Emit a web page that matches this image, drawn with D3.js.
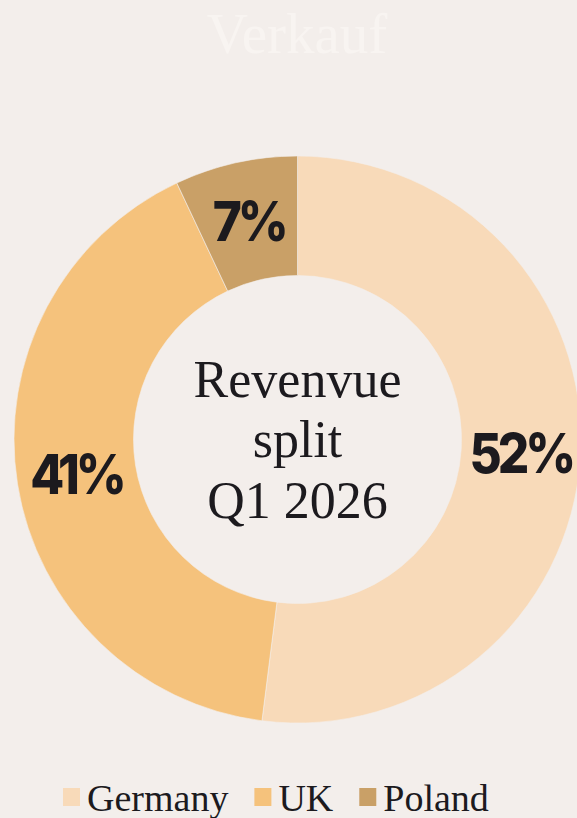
<!DOCTYPE html>
<html>
<head>
<meta charset="utf-8">
<script src="https://cdn.jsdelivr.net/npm/d3@7"></script>
<style>
  html, body { margin: 0; padding: 0; background: #f3eeeb; }
  svg { display: block; }
</style>
</head>
<body>
<svg id="chart" width="577" height="818"></svg>
<script>
const categories = ["Germany", "UK", "Poland"];
const values = [52, 41, 7];
const labels = ["52%", "41%", "7%"];
const colors = ["#f8dab9", "#f5c27c", "#c9a067"];
const title = "Verkauf";
const centerLines = ["Revenvue", "split", "Q1 2026"];

const W = 577, H = 818;
const svg = d3.select("#chart");
svg.append("rect").attr("width", W).attr("height", H).attr("fill", "#f3eeeb");

svg.append("text")
  .attr("x", 297).attr("y", 53)
  .attr("text-anchor", "middle")
  .attr("font-family", "'Liberation Serif', serif")
  .attr("font-size", 57)
  .attr("fill", "#f8f4f1")
  .text(title);

const cx = 297.5, cy = 439.5, rOuter = 283.5, rInner = 164;
const pie = d3.pie().sort(null).value(d => d)(values);
const arc = d3.arc().innerRadius(rInner).outerRadius(rOuter);
const g = svg.append("g").attr("transform", `translate(${cx},${cy})`);

g.selectAll("path.slice").data(pie).join("path")
  .attr("class", "slice")
  .attr("d", arc)
  .attr("fill", (d, i) => colors[i])
  .attr("stroke", "#f3eeeb")
  .attr("stroke-width", 0.6);

g.selectAll("text.pct").data(pie).join("text")
  .attr("class", "pct")
  .attr("transform", d => { const c = arc.centroid(d); return `translate(${c[0]},${c[1]}) scale(0.9,1)`; })
  .attr("text-anchor", "middle")
  .attr("dy", "0.36em")
  .attr("font-family", "Inter, sans-serif")
  .attr("font-weight", 800)
  .attr("font-size", 55)
  .attr("letter-spacing", -4.5)
  .attr("fill", "#1c1a1e")
  .text((d, i) => labels[i]);

const baselines = [397, 457, 518];
g.selectAll("text.center").data(centerLines).join("text")
  .attr("class", "center")
  .attr("x", 0)
  .attr("y", (d, i) => baselines[i] - cy)
  .attr("text-anchor", "middle")
  .attr("font-family", "'Liberation Serif', serif")
  .attr("font-size", 52)
  .attr("fill", "#1c1a1e")
  .text(d => d);

// legend
const leg = svg.append("g");
let x = 63;
categories.forEach((c, i) => {
  leg.append("rect").attr("x", x).attr("y", 788).attr("width", 17).attr("height", 18).attr("fill", colors[i]);
  const t = leg.append("text")
    .attr("x", x + 24).attr("y", 811)
    .attr("font-family", "'Liberation Serif', serif")
    .attr("font-size", 38)
    .attr("fill", "#1c1a1e")
    .text(c);
  x = x + 24 + t.node().getComputedTextLength() + 26;
});
</script>
</body>
</html>
